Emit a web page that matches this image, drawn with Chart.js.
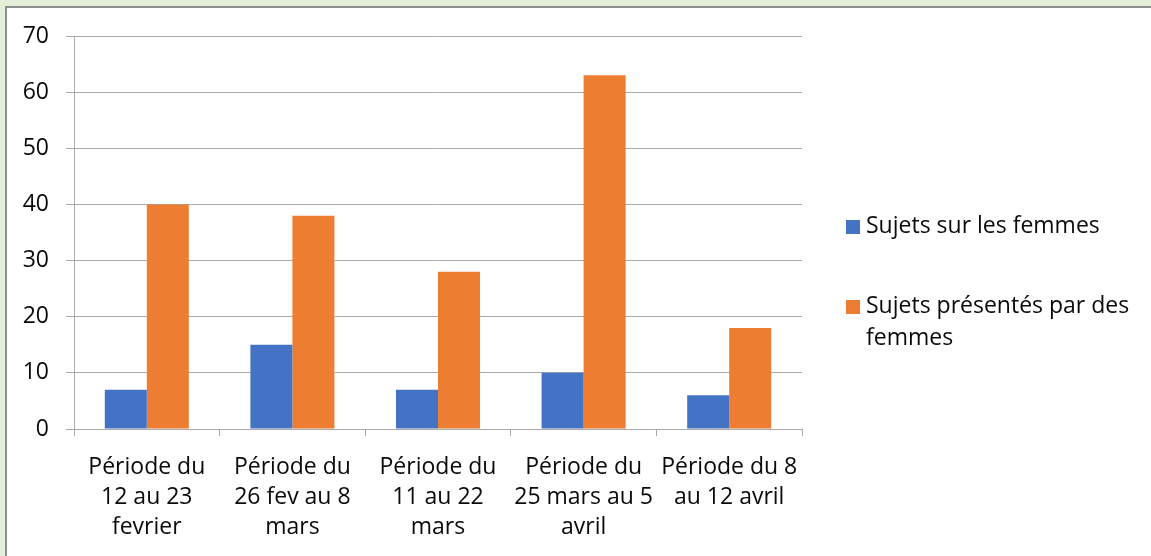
<!DOCTYPE html>
<html>
<head>
<meta charset="utf-8">
<script src="https://cdn.jsdelivr.net/npm/chart.js@4/dist/chart.umd.min.js"></script>
<style>
  html, body { margin: 0; padding: 0; width: 1151px; height: 556px; overflow: hidden; background: #e3efd9; font-family: "Open Sans", sans-serif; }
  #box { position: absolute; left: 5px; top: 6px; width: 1160px; height: 570px; background: #fff; border: 2px solid #8e8e8e; }
  #wrap { position: absolute; left: 0; top: 0; width: 1151px; height: 556px; }
  #legend { position: absolute; left: 846px; top: 208px; font-size: 23px; color: #0a0a0a; }
  .item { position: absolute; left: 0; white-space: nowrap; line-height: 32px; }
  .sw { position: absolute; left: 0; width: 14px; height: 14px; }
  .txt { position: absolute; left: 20px; }
</style>
</head>
<body>
<div id="box"></div>
<div id="wrap"><canvas id="c" width="1151" height="556"></canvas></div>
<div id="legend"></div>
<script>
const categories = [
  ["Période du", "12 au 23", "fevrier"],
  ["Période du", "26 fev au 8", "mars"],
  ["Période du", "11 au 22", "mars"],
  ["Période du", "25 mars au 5", "avril"],
  ["Période du 8", "au 12 avril"]
];
const seriesNames = ["Sujets sur les femmes", "Sujets présentés par des femmes"];
const sujetsSurFemmes = [7, 15, 7, 10, 6];
const sujetsParFemmes = [40, 38, 28, 63, 18];
const colors = ["#4472C4", "#ED7D31"];

const FONT = { family: "'Open Sans', sans-serif", size: 23, lineHeight: 30 / 23 };
const gridColor = "#aaaaaa";

const chart = new Chart(document.getElementById("c"), {
  type: "bar",
  data: {
    labels: categories,
    datasets: [
      { label: seriesNames[0], data: sujetsSurFemmes, backgroundColor: colors[0], categoryPercentage: 0.577, barPercentage: 1.0 },
      { label: seriesNames[1], data: sujetsParFemmes, backgroundColor: colors[1], categoryPercentage: 0.577, barPercentage: 1.0 }
    ]
  },
  options: {
    responsive: false,
    animation: false,
    layout: { padding: { left: 0, top: 36, right: 349, bottom: 0 } },
    plugins: { legend: { display: false }, tooltip: { enabled: false } },
    scales: {
      x: {
        offset: true,
        grid: { display: true, offset: true, drawOnChartArea: false, drawTicks: true, tickLength: 7, color: gridColor },
        border: { display: true, color: gridColor },
        ticks: { color: "#0a0a0a", font: FONT, padding: 16, maxRotation: 0, autoSkip: false },
        afterFit: (s) => { s.height = 127; }
      },
      y: {
        min: 0, max: 70,
        grid: { color: gridColor, tickLength: 8, drawTicks: true },
        border: { display: true, color: gridColor },
        ticks: { stepSize: 10, color: "#0a0a0a", font: FONT, padding: 17 },
        afterFit: (s) => { s.width = 74; }
      }
    }
  }
});

// HTML legend from the dataset names/colours
const legend = document.getElementById("legend");
const legendLines = [["Sujets sur les femmes"], ["Sujets présentés par des", "femmes"]];
const tops = [0, 80];
legendLines.forEach((lines, i) => {
  const it = document.createElement("div");
  it.className = "item";
  it.style.top = tops[i] + "px";
  const sw = document.createElement("div");
  sw.className = "sw";
  sw.style.background = colors[i];
  sw.style.top = "12px";
  const t = document.createElement("div");
  t.className = "txt";
  t.innerHTML = lines.join("<br>");
  it.appendChild(sw); it.appendChild(t);
  legend.appendChild(it);
});
</script>
</body>
</html>
